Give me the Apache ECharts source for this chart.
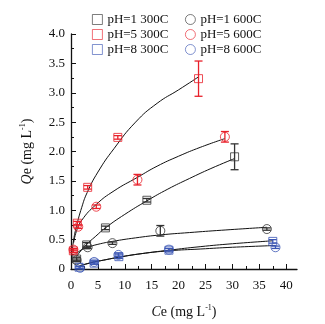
<!DOCTYPE html>
<html>
<head>
<meta charset="utf-8">
<script src="https://cdn.jsdelivr.net/npm/echarts@6/dist/echarts.min.js"></script>
<style>
  html, body { margin: 0; padding: 0; background: #fff; }
  #chart { width: 325px; height: 324px; }
</style>
</head>
<body>
<div id="chart"></div>
<script>
// measured points (Ce, Qe, error half-height)
const ph1_300_ce = [1.05, 2.9, 6.4, 14.1, 30.4];
const ph1_300_qe = [0.17, 0.41, 0.70, 1.17, 1.91];
const ph1_300_err = [0.03, 0.04, 0.03, 0.03, 0.22];

const ph5_300_ce = [0.43, 1.17, 3.1, 8.7, 23.7];
const ph5_300_qe = [0.31, 0.78, 1.39, 2.24, 3.24];
const ph5_300_err = [0.03, 0.03, 0.03, 0.03, 0.30];

const ph8_300_ce = [1.5, 4.3, 8.9, 18.2, 37.5];
const ph8_300_qe = [0.03, 0.10, 0.21, 0.32, 0.47];
const ph8_300_err = [0.02, 0.02, 0.03, 0.03, 0.03];

const ph1_600_ce = [1.05, 3.1, 7.7, 16.6, 36.4];
const ph1_600_qe = [0.15, 0.37, 0.44, 0.65, 0.68];
const ph1_600_err = [0.02, 0.02, 0.02, 0.09, 0.02];

const ph5_600_ce = [0.45, 1.35, 4.7, 12.35, 28.6];
const ph5_600_qe = [0.33, 0.72, 1.06, 1.52, 2.25];
const ph5_600_err = [0.02, 0.03, 0.03, 0.09, 0.09];

const ph8_600_ce = [1.7, 4.3, 8.8, 18.2, 38.0];
const ph8_600_qe = [0.02, 0.12, 0.24, 0.33, 0.37];
const ph8_600_err = [0.02, 0.02, 0.03, 0.02, 0.02];

// fitted curves
const ph1_300_fitCe = [1, 2, 2.9, 4.5, 6.4, 10, 14.1, 18, 22, 26, 30.4];
const ph1_300_fitQe = [0.21, 0.33, 0.42, 0.55, 0.70, 0.93, 1.16, 1.36, 1.54, 1.71, 1.88];

const ph5_300_fitCe = [0.2, 0.5, 1, 2, 3, 5, 8, 12, 16, 20, 23.7];
const ph5_300_fitQe = [0.28, 0.5, 0.72, 1.05, 1.3, 1.65, 2.05, 2.5, 2.82, 3.05, 3.27];

const ph8_300_fitCe = [1.5, 3, 4.3, 6, 8.9, 13, 18.2, 24, 30, 37.5];
const ph8_300_fitQe = [0.05, 0.09, 0.12, 0.15, 0.20, 0.26, 0.32, 0.38, 0.43, 0.48];

const ph1_600_fitCe = [1, 2, 3.1, 5, 7.7, 12, 16.6, 22, 28, 36.4];
const ph1_600_fitQe = [0.26, 0.33, 0.37, 0.42, 0.47, 0.53, 0.58, 0.62, 0.66, 0.71];

const ph5_600_fitCe = [0.5, 1, 2, 4.7, 8, 12.35, 16, 20, 24, 28.6];
const ph5_600_fitQe = [0.45, 0.64, 0.83, 1.1, 1.33, 1.56, 1.75, 1.92, 2.07, 2.22];

const ph8_600_fitCe = [1.7, 3, 4.3, 6, 8.8, 13, 18.2, 24, 30, 38];
const ph8_600_fitQe = [0.06, 0.09, 0.12, 0.15, 0.20, 0.26, 0.31, 0.34, 0.37, 0.40];

const xTicks = [0, 5, 10, 15, 20, 25, 30, 35, 40];

const FONT = 'Liberation Serif';
const BLACK = '#333333';
const RED = '#e8202a';
const BLUE = '#3a55b4';

const groups = [
  { name: 'pH=1 300C', ce: ph1_300_ce, qe: ph1_300_qe, err: ph1_300_err, fitCe: ph1_300_fitCe, fitQe: ph1_300_fitQe, color: BLACK, symbol: 'rect' },
  { name: 'pH=5 300C', ce: ph5_300_ce, qe: ph5_300_qe, err: ph5_300_err, fitCe: ph5_300_fitCe, fitQe: ph5_300_fitQe, color: RED, symbol: 'rect' },
  { name: 'pH=8 300C', ce: ph8_300_ce, qe: ph8_300_qe, err: ph8_300_err, fitCe: ph8_300_fitCe, fitQe: ph8_300_fitQe, color: BLUE, symbol: 'rect' },
  { name: 'pH=1 600C', ce: ph1_600_ce, qe: ph1_600_qe, err: ph1_600_err, fitCe: ph1_600_fitCe, fitQe: ph1_600_fitQe, color: BLACK, symbol: 'circle' },
  { name: 'pH=5 600C', ce: ph5_600_ce, qe: ph5_600_qe, err: ph5_600_err, fitCe: ph5_600_fitCe, fitQe: ph5_600_fitQe, color: RED, symbol: 'circle' },
  { name: 'pH=8 600C', ce: ph8_600_ce, qe: ph8_600_qe, err: ph8_600_err, fitCe: ph8_600_fitCe, fitQe: ph8_600_fitQe, color: BLUE, symbol: 'circle' }
];

const zip = (a, b) => a.map((v, i) => [v, b[i]]);

const series = [];
groups.forEach(g => {
  // fit curve
  series.push({
    type: 'line',
    name: g.name + ' fit',
    data: zip(g.fitCe, g.fitQe),
    smooth: true,
    symbol: 'none',
    lineStyle: { color: '#111', width: 1 },
    z: 1,
    silent: true
  });
  // error bars
  series.push({
    type: 'custom',
    name: g.name + ' err',
    data: g.ce.map((c, i) => [c, g.qe[i] - g.err[i], g.qe[i] + g.err[i]]),
    z: 3,
    renderItem: function (params, api) {
      const lo = api.coord([api.value(0), api.value(1)]);
      const hi = api.coord([api.value(0), api.value(2)]);
      const w = 4;
      const style = { stroke: g.color, lineWidth: 1.3 };
      return {
        type: 'group',
        children: [
          { type: 'line', shape: { x1: lo[0], y1: lo[1], x2: hi[0], y2: hi[1] }, style: style },
          { type: 'line', shape: { x1: lo[0] - w, y1: lo[1], x2: lo[0] + w, y2: lo[1] }, style: style },
          { type: 'line', shape: { x1: hi[0] - w, y1: hi[1], x2: hi[0] + w, y2: hi[1] }, style: style }
        ]
      };
    }
  });
  // markers
  series.push({
    type: 'scatter',
    name: g.name,
    data: zip(g.ce, g.qe),
    symbol: g.symbol,
    symbolSize: g.symbol === 'rect' ? 8 : 9,
    itemStyle: { color: 'rgba(255,255,255,0)', borderColor: g.color, borderWidth: 1 },
    z: 4
  });
});

const legendBase = {
  orient: 'vertical',
  top: 11,
  itemGap: 2,
  itemWidth: 10,
  itemHeight: 10,
  backgroundColor: '#fff',
  padding: [2, 4],
  itemStyle: { borderWidth: 0.8 },
  textStyle: { fontFamily: FONT, fontSize: 13, color: '#111' }
};

const option = {
  backgroundColor: '#fff',
  animation: false,
  textStyle: { fontFamily: FONT },
  legend: [
    Object.assign({}, legendBase, { left: 88, data: groups.slice(0, 3).map(g => ({ name: g.name, icon: 'rect' })) }),
    Object.assign({}, legendBase, { left: 181, data: groups.slice(3).map(g => ({ name: g.name, icon: 'circle' })) })
  ],
  grid: { left: 71, right: 28, top: 34, bottom: 55 },
  xAxis: {
    type: 'value',
    min: 0,
    max: 42,
    interval: 5,
    name: '{i|C}e (mg L{s|-1})',
    nameLocation: 'middle',
    nameGap: 35,
    nameTextStyle: {
      fontFamily: FONT, fontSize: 14, color: '#111',
      rich: {
        i: { fontFamily: FONT, fontSize: 14, fontStyle: 'italic', color: '#111' },
        s: { fontFamily: FONT, fontSize: 8, color: '#111', padding: [0, 0, 8, 0] }
      }
    },
    axisLine: { show: true, onZero: false, lineStyle: { color: '#111', width: 1.3 } },
    axisTick: { show: true, inside: true, length: 5, customValues: xTicks, lineStyle: { color: '#111' } },
    minorTick: { show: true, splitNumber: 2, length: 3, lineStyle: { color: '#111' } },
    axisLabel: { customValues: xTicks, fontFamily: FONT, fontSize: 13, color: '#111', margin: 10 },
    splitLine: { show: false }
  },
  yAxis: {
    type: 'value',
    min: 0,
    max: 4,
    interval: 0.5,
    name: '{i|Q}e (mg L{s|-1})',
    nameLocation: 'middle',
    nameGap: 36,
    nameRotate: 90,
    nameTextStyle: {
      fontFamily: FONT, fontSize: 14, color: '#111',
      rich: {
        i: { fontFamily: FONT, fontSize: 14, fontStyle: 'italic', color: '#111' },
        s: { fontFamily: FONT, fontSize: 8, color: '#111', padding: [0, 0, 8, 0] }
      }
    },
    axisLine: { show: true, onZero: false, lineStyle: { color: '#111', width: 1.3 } },
    axisTick: { show: true, inside: true, length: 5, lineStyle: { color: '#111' } },
    minorTick: { show: true, splitNumber: 2, length: 3, lineStyle: { color: '#111' } },
    axisLabel: {
      fontFamily: FONT, fontSize: 13, color: '#111', margin: 6,
      formatter: v => (v === 0 ? '0' : v.toFixed(1))
    },
    splitLine: { show: false }
  },
  series: series
};

const chart = echarts.init(document.getElementById('chart'));
chart.setOption(option);
</script>
</body>
</html>
